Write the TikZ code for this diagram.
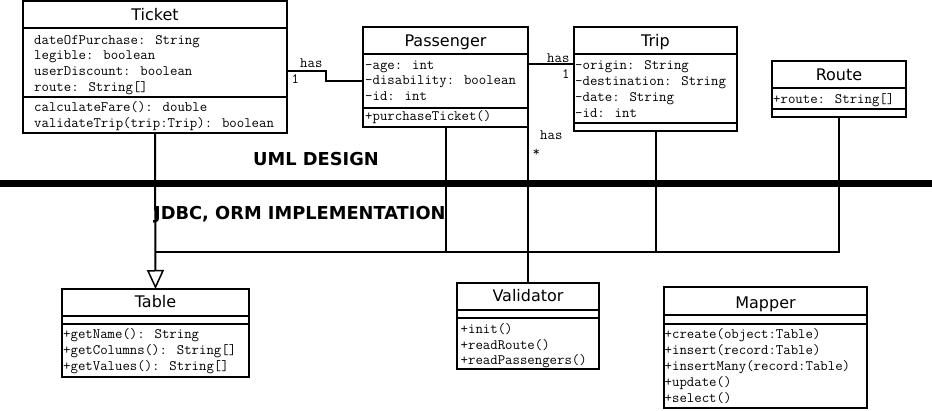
\documentclass[tikz,border=0pt]{standalone}
\usepackage{fontspec}
\newfontfamily\titlef{DejaVu Sans}
\usetikzlibrary{arrows.meta}
\newcommand{\umlclass}[7]{% name, left, top, right, bottom, sep1, sep2
  \node[classbox, minimum width={#4-#2}, minimum height={#5-#3}, anchor=north west] (#1) at (#2,#3) {};
  \draw[sepline] (#2,#6) -- (#4,#6);
  \draw[sepline] (#2,#7) -- (#4,#7);
}
\begin{document}
\begin{tikzpicture}[x=1pt,y=-1pt,
  classbox/.style={draw, line width=2pt, inner sep=0pt, outer sep=0pt},
  sepline/.style={line width=2pt},
  conn/.style={line width=2pt},
  mono/.style={inner sep=0pt, anchor=base west, font=\ttfamily\fontsize{14.4}{16}\selectfont},
  ctitle/.style={inner sep=0pt, anchor=base, font=\titlef\fontsize{16}{18}\selectfont},
  band/.style={inner sep=0pt, anchor=base west, font=\titlef\bfseries\fontsize{17.8}{20}\selectfont},
]
\useasboundingbox (0,0) rectangle (932,411);

% classes
\umlclass{ticket}{23}{1}{287}{133}{28}{97}
\umlclass{passenger}{363}{27}{528}{127}{54}{108}
\umlclass{trip}{574}{27}{737}{131}{54}{123}
\umlclass{route}{772}{61}{906}{117}{88}{109}
\umlclass{table}{62}{289}{249}{377}{316}{324}
\umlclass{validator}{457}{283}{599}{369}{310}{318}
\umlclass{mapper}{664}{287}{867}{408}{315}{324}

% titles
\node[ctitle] (tTicket) at (155,21) {Ticket};
\node[ctitle] (tPassenger) at (445.5,46.7) {Passenger};
\node[ctitle] (tTrip) at (655.5,46.7) {Trip};
\node[ctitle] (tRoute) at (839,81) {Route};
\node[ctitle] (tTable) at (155.5,308) {Table};
\node[ctitle] (tValidator) at (528,301.7) {Validator};
\node[ctitle] (tMapper) at (765.5,308.3) {Mapper};

% Ticket members
\node[mono] (ti1) at (34,44.3) {dateOfPurchase: String};
\node[mono] (ti2) at (34,60) {legible: boolean};
\node[mono] (ti3) at (34,75.7) {userDiscount: boolean};
\node[mono] (ti4) at (34,91.3) {route: String[]};
\node[mono] (ti5) at (34,111.7) {calculateFare(): double};
\node[mono] (ti6) at (34,127.7) {validateTrip(trip:Trip): boolean};

% Passenger members
\node[mono] (pa1) at (365,69.3) {-age: int};
\node[mono] (pa2) at (365,85) {-disability: boolean};
\node[mono] (pa3) at (365,101) {-id: int};
\node[mono] (pa4) at (365,121) {+purchaseTicket()};

% Trip members
\node[mono] (tr1) at (575,69.5) {-origin: String};
\node[mono] (tr2) at (575,85.5) {-destination: String};
\node[mono] (tr3) at (575,101.5) {-date: String};
\node[mono] (tr4) at (575,117.5) {-id: int};

% Route members
\node[mono] (ro1) at (773,103.3) {+route: String[]};

% Table members
\node[mono] (ta1) at (63,339) {+getName(): String};
\node[mono] (ta2) at (63,355) {+getColumns(): String[]};
\node[mono] (ta3) at (63,371) {+getValues(): String[]};

% Validator members
\node[mono] (va1) at (460.5,334) {+init()};
\node[mono] (va2) at (460.5,349.5) {+readRoute()};
\node[mono] (va3) at (460.5,365) {+readPassengers()};

% Mapper members
\node[mono] (ma1) at (664.5,338.3) {+create(object:Table)};
\node[mono] (ma2) at (664.5,354.3) {+insert(record:Table)};
\node[mono] (ma3) at (664.5,370.3) {+insertMany(record:Table)};
\node[mono] (ma4) at (664.5,386.3) {+update()};
\node[mono] (ma5) at (664.5,402.3) {+select()};

% band labels
\node[band] (uml) at (253,166) {UML DESIGN};
\node[band] (jdbc) at (154,219.3) {JDBC, ORM IMPLEMENTATION};

% separating thick line
\coordinate (bandL) at (0,184);
\coordinate (bandR) at (932,184);
\draw[line width=7pt] (bandL) -- (bandR);

% associations
\coordinate (tpA) at (287,71);
\coordinate (tpB) at (326,71);
\coordinate (tpC) at (326,81);
\coordinate (tpD) at (363,81);
\draw[conn] (tpA) -- (tpB) -- (tpC) -- (tpD);
\node[mono] (has1) at (300,67.7) {has};
\node[mono] (one1) at (291.5,83.3) {1};

\coordinate (ptA) at (528,64);
\coordinate (ptB) at (574,64);
\draw[conn] (ptA) -- (ptB);
\node[mono] (has2) at (547,62.3) {has};
\node[mono] (one2) at (562,78.3) {1};

\draw[conn] (ptA) -- (validator.north);
\node[mono] (has3) at (540,139.3) {has};
\node[mono] (star) at (532.5,156.7) {*};

% generalization
\coordinate (join) at (155,252);
\draw[conn] (passenger.south) |- (join);
\draw[conn] (trip.south) |- (join);
\draw[conn] (route.south) |- (join);
\draw[conn, -{Triangle[open, length=19pt, width=17pt, line width=1.5pt]}] (ticket.south) -- (table.north);
\end{tikzpicture}
\end{document}
